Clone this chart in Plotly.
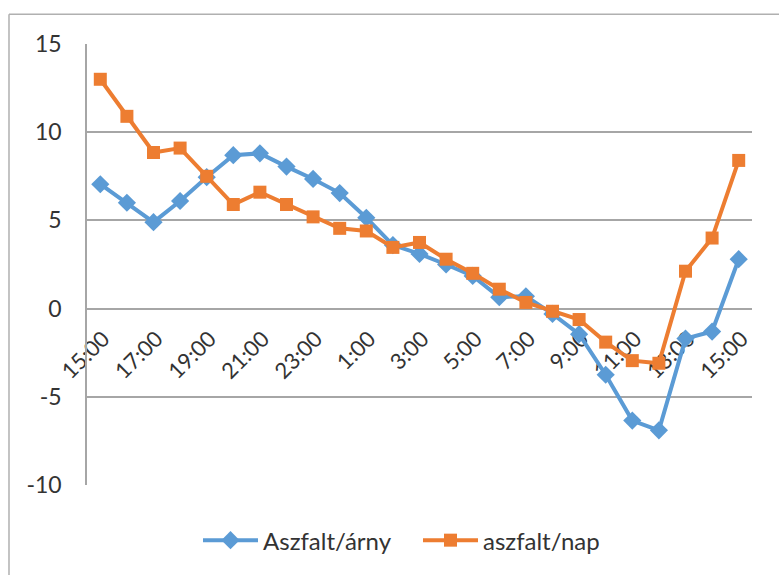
import plotly.graph_objects as go

# Hourly readings, 15:00 through 15:00 the next day
hours = ["15:00", "16:00", "17:00", "18:00", "19:00", "20:00", "21:00", "22:00",
         "23:00", "0:00", "1:00", "2:00", "3:00", "4:00", "5:00", "6:00", "7:00",
         "8:00", "9:00", "10:00", "11:00", "12:00", "13:00", "14:00", "15:00"]

aszfalt_arny = [7.05, 6.0, 4.9, 6.1, 7.45, 8.7, 8.8, 8.05, 7.35, 6.55, 5.15, 3.6,
                3.1, 2.5, 1.85, 0.65, 0.7, -0.3, -1.45, -3.75, -6.35, -6.9, -1.7,
                -1.3, 2.8]
aszfalt_nap = [13.0, 10.9, 8.85, 9.1, 7.5, 5.9, 6.6, 5.9, 5.2, 4.55, 4.4, 3.47,
               3.75, 2.8, 2.0, 1.1, 0.35, -0.15, -0.62, -1.9, -2.95, -3.1, 2.12,
               4.0, 8.4]

y_ticks = [-10, -5, 0, 5, 10, 15]
y_labels = ["-10", "-5", "0", "5", "10", "15"]

idx = list(range(len(hours)))

FONT = "Lato"
TEXT = "#333333"
GRID = "#a6a6a6"

fig = go.Figure()
fig.add_trace(go.Scatter(
    x=idx, y=aszfalt_arny, name="Aszfalt/árny", mode="lines+markers",
    line=dict(color="#5b9bd5", width=4),
    marker=dict(symbol="diamond", size=14, color="#5b9bd5"),
    legend="legend",
))
fig.add_trace(go.Scatter(
    x=idx, y=aszfalt_nap, name="aszfalt/nap", mode="lines+markers",
    line=dict(color="#ed7d31", width=4),
    marker=dict(symbol="square", size=13, color="#ed7d31"),
    legend="legend2",
))

legend_style = dict(orientation="h", xanchor="left", y=-0.126, yanchor="middle",
                    itemwidth=55, font=dict(size=24, color=TEXT),
                    bgcolor="rgba(0,0,0,0)")

fig.update_layout(
    width=779, height=575,
    margin=dict(l=87, r=27, t=44, b=86),
    paper_bgcolor="white", plot_bgcolor="white",
    font=dict(family=FONT, size=22, color=TEXT),
    showlegend=True,
    legend=dict(x=(198 - 87) / 665, **legend_style),
    legend2=dict(x=(418 - 87) / 665, **legend_style),
    xaxis=dict(
        range=[-0.5, len(hours) - 0.5],
        tickvals=idx[::2], ticktext=hours[::2],
        tickangle=-45, anchor="free", position=0.4, layer="below traces",
        showgrid=False, zeroline=False, showline=False, ticks="",
        ticklabelshift=3, ticklabelstandoff=12,
        tickfont=dict(size=22, color=TEXT),
    ),
    yaxis=dict(
        range=[-10, 15], tickvals=y_ticks, ticktext=y_labels,
        showgrid=True, gridcolor=GRID, gridwidth=1.5,
        zeroline=False, showline=True, linecolor=GRID, linewidth=1.5,
        ticks="", ticklabelstandoff=19, tickfont=dict(size=23, color=TEXT),
    ),
    shapes=[
        dict(type="line", xref="paper", yref="paper",
             x0=-0.1173, x1=1.2, y0=1.0674, y1=1.0674,
             line=dict(color="#b0b0b0", width=1.5)),
        dict(type="line", xref="paper", yref="paper",
             x0=-0.1173, x1=-0.1173, y0=1.0674, y1=-0.3,
             line=dict(color="#b0b0b0", width=1.5)),
    ],
)

fig.write_html("out.html")
